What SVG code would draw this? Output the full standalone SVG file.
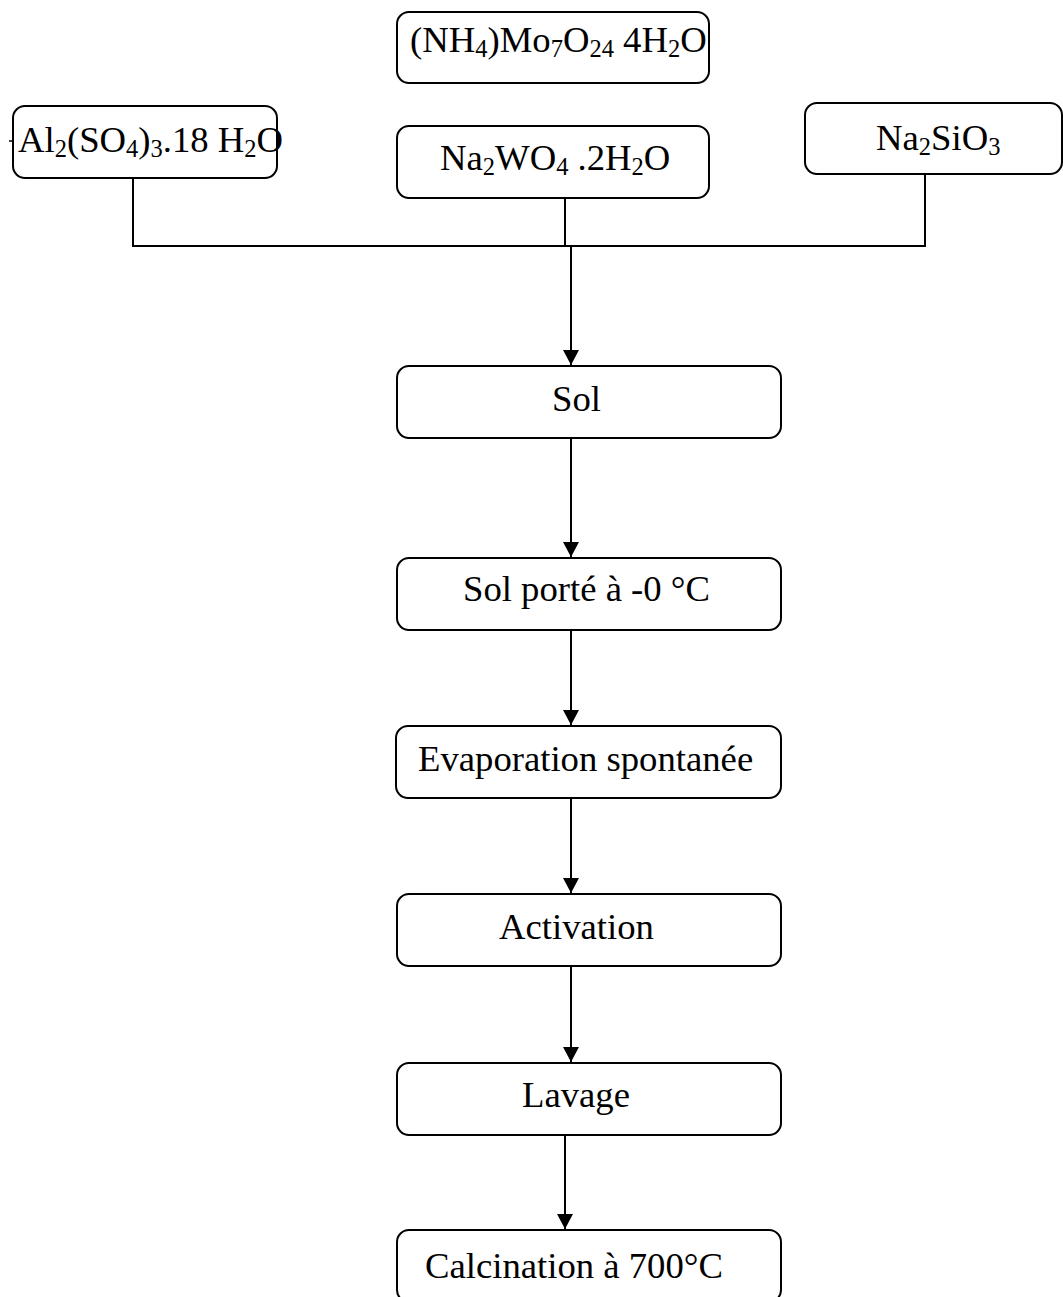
<svg xmlns="http://www.w3.org/2000/svg" width="1063" height="1297" viewBox="0 0 1063 1297">
<style>
.box{fill:#fff;stroke:#000;stroke-width:2}
.t{font-family:"Liberation Serif","Times New Roman",serif;font-size:36.7px;fill:#000}
.s{font-size:24.5px}
.ln{fill:none;stroke:#000;stroke-width:2}
</style>
<defs>
<marker id="ah" markerUnits="userSpaceOnUse" markerWidth="16" markerHeight="18" refX="15" refY="8" orient="auto">
<path d="M0,0 L15,8 L0,16 Z" fill="#000"/>
</marker>
</defs>
<rect width="1063" height="1297" fill="#fff"/>
<g id="connectors">
<path class="ln" d="M133,178 V246 H925 V173"/>
<path class="ln" d="M565,198 V246"/>
<path class="ln" d="M571,246 V365" marker-end="url(#ah)"/>
<path class="ln" d="M571,438 V557" marker-end="url(#ah)"/>
<path class="ln" d="M571,630 V725" marker-end="url(#ah)"/>
<path class="ln" d="M571,798 V893" marker-end="url(#ah)"/>
<path class="ln" d="M571,966 V1062" marker-end="url(#ah)"/>
<path class="ln" d="M565,1135 V1229" marker-end="url(#ah)"/>
</g>
<g id="n_molybdate">
<rect class="box" x="397" y="12" width="312" height="71" rx="12"/>
<text class="t" x="410" y="52">(NH<tspan class="s" dy="5">4</tspan><tspan dy="-5">)Mo</tspan><tspan class="s" dy="5">7</tspan><tspan dy="-5">O</tspan><tspan class="s" dy="5">24</tspan><tspan dy="-5"> 4H</tspan><tspan class="s" dy="5">2</tspan><tspan dy="-5">O</tspan></text>
</g>
<g id="n_alum">
<rect class="box" x="13" y="106" width="264" height="72" rx="12"/>
<path d="M9,141 H13" stroke="#000" stroke-width="1.5"/>
<text class="t" x="18" y="152">Al<tspan class="s" dy="5">2</tspan><tspan dy="-5">(SO</tspan><tspan class="s" dy="5">4</tspan><tspan dy="-5">)</tspan><tspan class="s" dy="5">3</tspan><tspan dy="-5">.18 H</tspan><tspan class="s" dy="5">2</tspan><tspan dy="-5">O</tspan></text>
</g>
<g id="n_tungstate">
<rect class="box" x="397" y="126" width="312" height="72" rx="12"/>
<text class="t" x="440" y="170">Na<tspan class="s" dy="5">2</tspan><tspan dy="-5">WO</tspan><tspan class="s" dy="5">4</tspan><tspan dy="-5"> .2H</tspan><tspan class="s" dy="5">2</tspan><tspan dy="-5">O</tspan></text>
</g>
<g id="n_silicate">
<rect class="box" x="805" y="103" width="257" height="71" rx="12"/>
<text class="t" x="876" y="150">Na<tspan class="s" dy="5">2</tspan><tspan dy="-5">SiO</tspan><tspan class="s" dy="5">3</tspan></text>
</g>
<g id="n_sol">
<rect class="box" x="397" y="366" width="384" height="72" rx="12"/>
<text class="t" x="552" y="411">Sol</text>
</g>
<g id="n_solporte">
<rect class="box" x="397" y="558" width="384" height="72" rx="12"/>
<text class="t" x="463" y="601">Sol porté à -0 °C</text>
</g>
<g id="n_evap">
<rect class="box" x="396" y="726" width="385" height="72" rx="12"/>
<text class="t" x="418" y="771">Evaporation spontanée</text>
</g>
<g id="n_activation">
<rect class="box" x="397" y="894" width="384" height="72" rx="12"/>
<text class="t" x="499" y="939">Activation</text>
</g>
<g id="n_lavage">
<rect class="box" x="397" y="1063" width="384" height="72" rx="12"/>
<text class="t" x="522" y="1107">Lavage</text>
</g>
<g id="n_calcination">
<rect class="box" x="397" y="1230" width="384" height="72" rx="12"/>
<text class="t" x="425" y="1278">Calcination à 700°C</text>
</g>
</svg>
